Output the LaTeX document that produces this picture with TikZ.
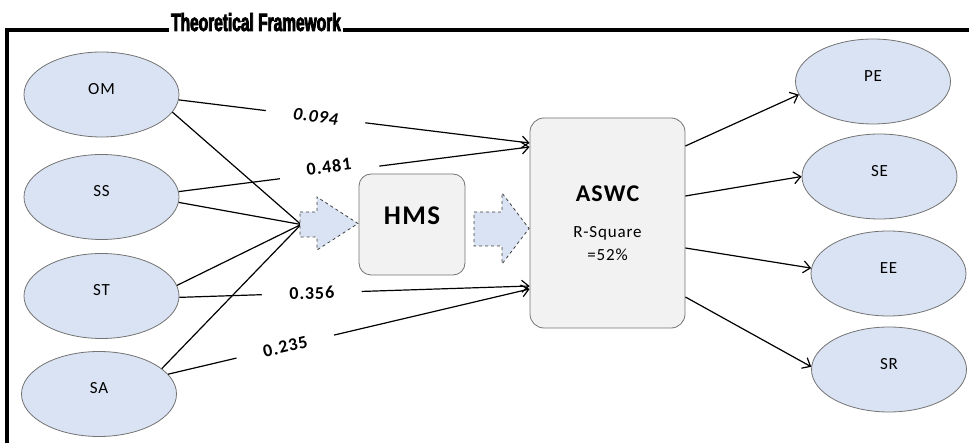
\documentclass[tikz,border=0pt]{standalone}
\usepackage{fontspec}
\setmainfont{Carlito}[LetterSpace=5]
\newfontfamily\headfont{Liberation Sans}[FakeStretch=0.62,FakeBold=3]
\usetikzlibrary{arrows.meta,shapes.geometric}
\definecolor{constructblue}{HTML}{DAE3F3}
\definecolor{boxgray}{HTML}{F2F2F2}
\definecolor{edgegray}{HTML}{737373}

\begin{document}
\begin{tikzpicture}[x=1pt,y=-1pt,
  construct/.style={ellipse,draw=edgegray,fill=constructblue,line width=0.8pt,
                    minimum width=155pt,minimum height=85pt,inner sep=0pt,
                    text height=11pt,text depth=11pt,font=\fontsize{17}{20}\selectfont},
  panel/.style={draw=edgegray,fill=boxgray,line width=0.8pt,rounded corners=14pt,inner sep=0pt},
  blockarrow/.style={draw=black!75,dashed,fill=constructblue,line width=0.8pt,line join=miter},
  link/.style={line width=1.2pt},
  effect/.style={link,-{Straight Barb[length=7pt,width=12pt]}},
  coef/.style={sloped,fill=white,inner sep=1pt,minimum width=100pt,minimum height=22pt,
               font=\fontsize{18}{21}\selectfont\bfseries},
  outline/.style={line width=4pt,line join=miter}]

\useasboundingbox (0,0) rectangle (969,443);

% frame and heading
\draw[outline] (7,443) |- (969,30);
\node[fill=white,inner xsep=2pt,inner ysep=2pt,anchor=base,
      font=\headfont\bfseries\fontsize{25}{29}\selectfont] (title) at (256,31) {Theoretical Framework};

% independent constructs
\node[construct] (OM) at (101.5,94.5) {OM};
\node[construct] (SS) at (101.5,197)  {SS};
\node[construct] (ST) at (101.5,296)  {ST};
\node[construct] (SA) at (99,394)     {SA};

% outcome constructs
\node[construct] (PE) at (873,81.5)   {PE};
\node[construct] (SE) at (879.5,176.5) {SE};
\node[construct] (EE) at (888.5,273.5) {EE};
\node[construct] (SR) at (889,369.5)  {SR};

\node[panel,minimum width=155pt,minimum height=210pt,align=center,
      font=\fontsize{17}{23}\selectfont] (ASWC) at (607.5,223)
  {{\fontsize{24}{27}\selectfont\bfseries ASWC}\\[13pt]R-Square\\=52\%};

% path coefficients
\draw[effect] (OM.-4) -- node[coef,pos=.39,font=\fontsize{18}{21}\selectfont\bfseries\itshape]{0.094}
  ([yshift=80pt]ASWC.west);
\draw[effect] (SS.4) -- node[coef,pos=.43,yshift=6pt]{0.481} ([yshift=76pt]ASWC.west);
\draw[effect] (ST.-1) -- node[coef,pos=.378]{0.356} ([yshift=-63pt]ASWC.west);
\draw[effect] (SA.16) -- node[coef,pos=.324]{0.235} ([yshift=-66pt]ASWC.west);

% mediation through HMS
\coordinate (hub) at (301,224.5);
\foreach \s/\a in {OM/-14,SS/-4,ST/8,SA/22}
  \draw[link] (\s.\a) -- (hub);

\node[panel,rounded corners=12pt,minimum width=106pt,minimum height=101pt,
      text height=17pt,text depth=17pt,font=\fontsize{27}{31}\selectfont\bfseries] (HMS) at (412,224.5) {HMS};

\draw[blockarrow] (300,212) -- (317,212) -- (317,197) -- (358,223.5) -- (317,250) -- (317,237) -- (300,237) -- cycle;
\draw[blockarrow] (474,212) -- (502,212) -- (502,193) -- (529,228.5) -- (502,264) -- (502,246) -- (474,246) -- cycle;

\foreach \t/\off/\a in {PE/77/190,SE/27/180,EE/-25/176,SR/-74/178}
  \draw[effect] ([yshift=\off pt]ASWC.east) -- (\t.\a);
\end{tikzpicture}
\end{document}
